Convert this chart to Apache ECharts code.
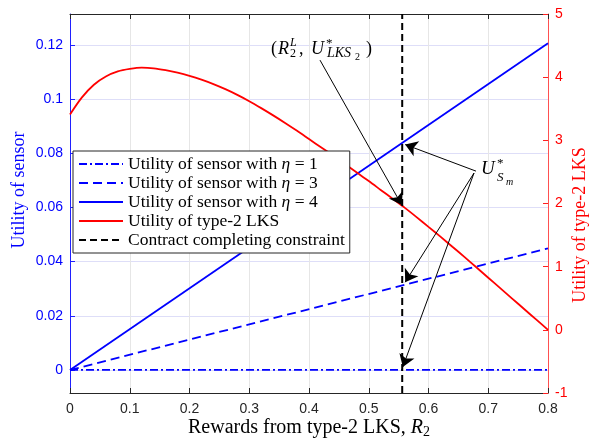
<!DOCTYPE html>
<html>
<head>
<meta charset="utf-8">
<script src="https://cdn.jsdelivr.net/npm/echarts@6/dist/echarts.min.js"></script>
<style>
  html, body { margin: 0; padding: 0; background: #fff; }
  #chart { width: 592px; height: 438px; }
</style>
</head>
<body>
<div id="chart"></div>
<script>
// reward axis (type-2 LKS rewards R2)
var rewards = [0, 0.8];
// utility of sensor, left axis
var sensorEta1 = [0, 0];
var sensorEta3 = [0, 0.0449];
var sensorEta4 = [0, 0.1206];
// utility of type-2 LKS, right axis
var lksRewards = [0, 0.02, 0.04, 0.06, 0.08, 0.10, 0.12, 0.14, 0.16, 0.18, 0.20,
                  0.22, 0.24, 0.26, 0.28, 0.30, 0.32, 0.34, 0.36, 0.38, 0.40,
                  0.42, 0.44, 0.46, 0.48, 0.50, 0.52, 0.54, 0.56, 0.58, 0.60,
                  0.62, 0.64, 0.66, 0.68, 0.70, 0.72, 0.74, 0.76, 0.78, 0.80];
var lksUtility = [3.41, 3.68, 3.88, 4.01, 4.09, 4.13, 4.15, 4.14, 4.11, 4.07, 4.02,
                  3.96, 3.89, 3.81, 3.72, 3.62, 3.51, 3.395, 3.275, 3.15, 3.02,
                  2.89, 2.76, 2.625, 2.49, 2.355, 2.215, 2.075, 1.935, 1.785, 1.63,
                  1.475, 1.315, 1.155, 0.99, 0.825, 0.66, 0.495, 0.33, 0.165, 0.0];
// contract completing constraint R2^L
var constraintR = 0.556;
var constraintSpan = [-1, 5];

var serif = '"Liberation Serif", "DejaVu Serif", serif';
var sans = '"Liberation Sans", Arial, sans-serif';

function pairs(xs, ys) {
  return xs.map(function (x, i) { return [x, ys[i]]; });
}

// little text pieces for the math annotations
function tex(str, x, y, size, italic) {
  return {
    type: 'text', x: x, y: y, z: 100,
    style: {
      text: str,
      font: (italic ? 'italic ' : '') + size + 'px ' + serif,
      fill: '#000',
      verticalAlign: 'middle'
    }
  };
}

// rotated axis titles
function yTitle(str, x, y, color) {
  return {
    type: 'text', x: x, y: y, rotation: Math.PI / 2, z: 100,
    style: {
      text: str, font: '18px ' + serif, fill: color,
      align: 'center', verticalAlign: 'middle'
    }
  };
}

var chart = echarts.init(document.getElementById('chart'));

var arrowLine = { color: '#000', width: 1, type: 'solid' };

var option = {
  animation: false,
  grid: { left: 70, right: 44, top: 14, bottom: 45, containLabel: false, outerBoundsMode: 'none' },
  legend: {
    orient: 'vertical',
    left: 73,
    top: 151,
    backgroundColor: '#fff',
    borderColor: '#262626',
    borderWidth: 1,
    borderRadius: 0,
    padding: [4, 5, 4, 5],
    itemWidth: 44,
    itemHeight: 14,
    itemGap: 1,
    itemStyle: { opacity: 0 },
    data: ['Utility of sensor with η = 1', 'Utility of sensor with η = 3',
           'Utility of sensor with η = 4', 'Utility of type-2 LKS',
           'Contract completing constraint'],
    formatter: function (name) {
      return name.split('η').map(function (s) { return '{n|' + s + '}'; }).join('{i|η}');
    },
    textStyle: {
      color: '#000',
      lineHeight: 14,
      rich: {
        n: { fontFamily: serif, fontSize: 17.5, lineHeight: 14, color: '#000' },
        i: { fontFamily: serif, fontSize: 17.5, lineHeight: 14, fontStyle: 'italic', color: '#000' }
      }
    }
  },
  xAxis: [
    {
      type: 'value', position: 'bottom', min: 0, max: 0.8, interval: 0.1,
      axisLine: { show: true, onZero: false, lineStyle: { color: '#262626', width: 1 } },
      axisTick: { show: true, inside: true, length: 5, lineStyle: { color: '#262626' } },
      axisLabel: { color: '#262626', fontFamily: sans, fontSize: 14, margin: 9 },
      splitLine: { show: true, lineStyle: { color: '#e6e6e6', width: 1 } }
    },
    {
      type: 'value', position: 'top', min: 0, max: 0.8, interval: 0.1,
      axisLine: { show: true, onZero: false, lineStyle: { color: '#262626', width: 1 } },
      axisTick: { show: true, inside: true, length: 5, lineStyle: { color: '#262626' } },
      axisLabel: { show: false },
      splitLine: { show: false }
    }
  ],
  yAxis: [
    {
      type: 'value', position: 'left', min: -0.0085, max: 0.1314, splitNumber: 7,
      axisLine: { show: true, onZero: false, lineStyle: { color: '#2020ff', width: 1 } },
      axisTick: { show: true, inside: true, length: 5, lineStyle: { color: '#2020ff' } },
      axisLabel: { color: '#0000ff', fontFamily: sans, fontSize: 14, margin: 7,
                   showMinLabel: false, showMaxLabel: false },
      splitLine: { show: true, lineStyle: { color: '#dedef8', width: 1 } }
    },
    {
      type: 'value', position: 'right', min: -1, max: 5, interval: 1,
      axisLine: { show: true, onZero: false, lineStyle: { color: '#ff5050', width: 1 } },
      axisTick: { show: true, inside: true, length: 5, lineStyle: { color: '#ff2020' } },
      axisLabel: { color: '#ff0000', fontFamily: sans, fontSize: 14, margin: 7 },
      splitLine: { show: false }
    }
  ],
  series: [
    {
      name: 'Utility of sensor with η = 1', type: 'line', yAxisIndex: 0,
      data: pairs(rewards, sensorEta1), symbol: 'none', color: '#0000ff',
      lineStyle: { width: 1.8, type: [8, 3, 2, 3] }
    },
    {
      name: 'Utility of sensor with η = 3', type: 'line', yAxisIndex: 0,
      data: pairs(rewards, sensorEta3), symbol: 'none', color: '#0000ff',
      lineStyle: { width: 1.8, type: [9, 5] }
    },
    {
      name: 'Utility of sensor with η = 4', type: 'line', yAxisIndex: 0,
      data: pairs(rewards, sensorEta4), symbol: 'none', color: '#0000ff',
      lineStyle: { width: 1.8, type: 'solid' },
      markLine: {
        silent: true, symbol: ['none', 'arrow'], symbolSize: 12,
        label: { show: false }, lineStyle: arrowLine, emphasis: { disabled: true },
        data: [
          [{ coord: [0.6795, 0.0734] }, { coord: [0.561, 0.0832] }],
          [{ coord: [0.6762, 0.0727] }, { coord: [0.561, 0.0324] }],
          [{ coord: [0.6762, 0.0727] }, { coord: [0.557, 0.0011] }]
        ]
      }
    },
    {
      name: 'Utility of type-2 LKS', type: 'line', yAxisIndex: 1,
      data: pairs(lksRewards, lksUtility), symbol: 'none', color: '#ff0000',
      smooth: 0.3,
      lineStyle: { width: 1.8 },
      markLine: {
        silent: true, symbol: ['none', 'arrow'], symbolSize: 12,
        label: { show: false }, lineStyle: arrowLine, emphasis: { disabled: true },
        data: [
          [{ coord: [0.4184, 4.27] }, { coord: [0.5552, 1.976] }]
        ]
      }
    },
    {
      name: 'Contract completing constraint', type: 'line', yAxisIndex: 1,
      data: [[constraintR, constraintSpan[0]], [constraintR, constraintSpan[1]]],
      symbol: 'none', color: '#000',
      lineStyle: { width: 2, type: [7, 4] }
    }
  ],
  graphic: [
    yTitle('Utility of sensor', 19, 190, '#0000ff'),
    yTitle('Utility of type-2 LKS', 580, 225, '#ff0000'),
    {
      type: 'text', x: 309, y: 428, z: 100,
      style: {
        text: '{n|Rewards from type-2 LKS, }{i|R}{s|2}',
        align: 'center', verticalAlign: 'middle',
        rich: {
          n: { fontFamily: serif, fontSize: 20, fill: '#000' },
          i: { fontFamily: serif, fontSize: 20, fontStyle: 'italic', fill: '#000' },
          s: { fontFamily: serif, fontSize: 14, fill: '#000', padding: [9, 0, 0, 0] }
        }
      }
    },
    tex('(', 271, 49, 18, false),
    tex('R', 278, 49, 18, true),
    tex('L', 290, 43, 12, true),
    tex('2', 290, 54, 12, false),
    tex(',', 299, 49, 18, false),
    tex('U', 311, 49, 18, true),
    tex('*', 326, 44, 13, false),
    tex('LKS', 327, 53, 14, true),
    tex('2', 355, 57, 10, false),
    tex(')', 366, 49, 18, false),
    tex('U', 481, 169, 19, true),
    tex('*', 497, 164, 13, false),
    tex('S', 497, 178, 13, true),
    tex('m', 506, 182, 10, true)
  ]
};

chart.setOption(option);
</script>
</body>
</html>
